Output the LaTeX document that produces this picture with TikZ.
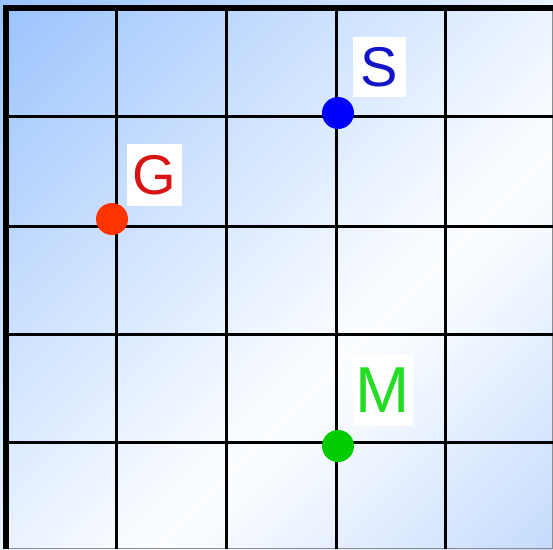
\documentclass[tikz,border=0pt]{standalone}
\usepackage{fontspec}
\usepackage{xcolor}
\usepackage{tikz}
\newfontfamily\lblfont{Liberation Sans}
\definecolor{skyA}{HTML}{9AC3FD}
\definecolor{skyC}{HTML}{BCD7FE}
\definecolor{skyM}{HTML}{DBEAFF}
\definecolor{skyP}{HTML}{F3F8FF}
\definecolor{skyW}{HTML}{FBFDFF}
\definecolor{skyQ}{HTML}{E4EEFF}
\definecolor{skyB}{HTML}{C4DBFC}
\definecolor{dotblue}{HTML}{0000FF}
\definecolor{dotred}{HTML}{FF3300}
\definecolor{dotgreen}{HTML}{00CC00}
\definecolor{txtblue}{HTML}{1414C8}
\definecolor{txtred}{HTML}{D81414}
\definecolor{txtgreen}{HTML}{22DD22}
\pgfdeclarehorizontalshading{panelshade}{100bp}{color(0bp)=(skyA); color(14.6bp)=(skyA);
  color(29.5bp)=(skyC); color(43.6bp)=(skyM); color(54.2bp)=(skyP); color(59.8bp)=(skyW);
  color(65.5bp)=(skyP); color(71.9bp)=(skyQ); color(85.3bp)=(skyB); color(100bp)=(skyB)}
\tikzset{
  gridln/.style={line width=3pt, draw=black},
  edgeln/.style={line width=6pt, draw=black},
  pin/.style={circle, inner sep=0pt, minimum size=32pt},
  tag/.style={fill=white, inner sep=0pt, font=\lblfont\fontsize{56}{56}\selectfont},
}

\begin{document}
\begin{tikzpicture}[x=1pt, y=-1pt]
  \useasboundingbox (0,0) rectangle (553,549);
  % background panel
  \shade[shading=panelshade, shading angle=-45] (0,0) rectangle (553,549);
  \draw[line width=1pt, draw=black!45] (552.5,8) -- (552.5,548.5) -- (6,548.5);
  % grid
  \foreach \gx in {116,226,336,445}
    \draw[gridln] (\gx,8) -- (\gx,549);
  \foreach \gy in {116,226,334,442}
    \draw[gridln] (6,\gy) -- (553,\gy);
  \draw[edgeln] (6,549) -- (6,8) -- (553,8);
  % points
  \node[pin, fill=dotblue]  (s) at (338,113) {};
  \node[pin, fill=dotred]   (g) at (112,219) {};
  \node[pin, fill=dotgreen] (m) at (338,446) {};
  \node[tag, text=txtblue, minimum width=53pt, minimum height=60pt]  (slbl) at (379.5,67) {S};
  \node[tag, text=txtred, minimum width=55pt, minimum height=62pt]   (glbl) at (154.5,175) {G};
  \node[tag, text=txtgreen, minimum width=60pt, minimum height=71pt,
        font=\lblfont\fontsize{65}{65}\selectfont]                   (mlbl) at (383,390.5) {M};
\end{tikzpicture}
\end{document}
